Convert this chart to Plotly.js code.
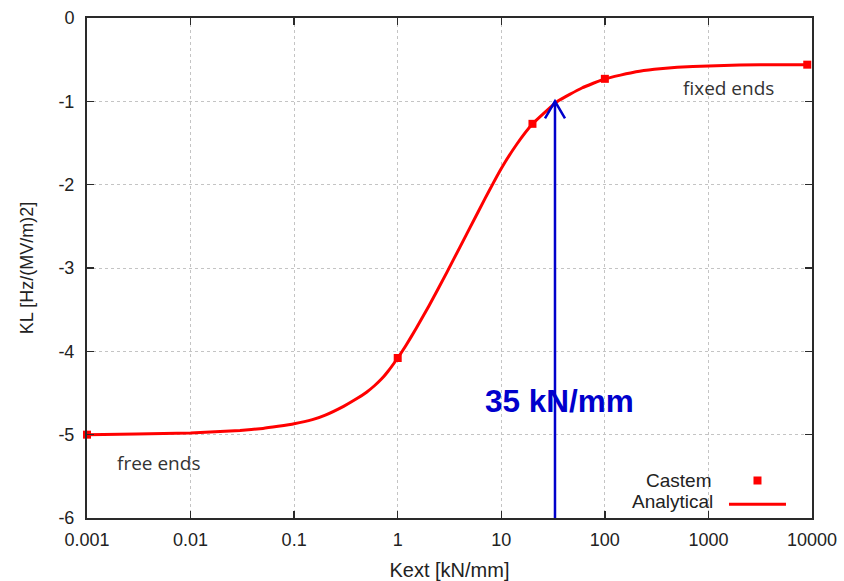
<!DOCTYPE html>
<html><head><meta charset="utf-8">
<script src="https://cdn.plot.ly/plotly-3.0.1.min.js"></script>
<style>html,body{margin:0;padding:0;background:#fff}</style>
</head><body><div id="chart" style="width:844px;height:581px"></div>
<script>
// Analytical curve
const analyticalK  = [0.001, 0.003, 0.01, 0.03, 0.05, 0.07, 0.1, 0.15, 0.2, 0.3, 0.4, 0.5, 0.6, 0.7, 0.8, 1, 1.2, 1.5, 2, 3, 4, 5, 7, 10, 14, 20, 35, 60, 100, 200, 300, 500, 1000, 2000, 5000, 9000];
const analyticalKL = [-5.0, -4.993, -4.98, -4.95, -4.925, -4.90, -4.87, -4.82, -4.765, -4.66, -4.57, -4.49, -4.41, -4.33, -4.245, -4.08, -3.93, -3.73, -3.456, -3.046, -2.746, -2.513, -2.162, -1.806, -1.521, -1.273, -1.0, -0.84, -0.73, -0.645, -0.615, -0.59, -0.575, -0.565, -0.56, -0.56];
// Castem points
const castemK  = [0.001, 1, 20, 100, 9000];
const castemKL = [-5.0, -4.08, -1.27, -0.73, -0.56];
// Ticks
const xTickVals = [0.001, 0.01, 0.1, 1, 10, 100, 1000, 10000];
const xTickText = ["0.001", "0.01", "0.1", "1", "10", "100", "1000", "10000"];
const yTickVals = [0, -1, -2, -3, -4, -5, -6];
const yTickText = ["0", "-1", "-2", "-3", "-4", "-5", "-6"];
const minorMultipliers = [2, 5, 8];
// Highlighted stiffness (arrow drawn where the picture shows it)
const arrowK = 33;
const arrowTopKL = -1;
const arrowBottomKL = -6;
const markLabel = "35 kN/mm";

const xMinorVals = [];
xTickVals.slice(0, -1).forEach(d => minorMultipliers.forEach(m => xMinorVals.push(d * m)));

const red = '#ff0000';
const blue = '#0000cc';
const frame = '#2a2a2a';
const grid = '#c4c4c4';

const traces = [
  {x: analyticalK, y: analyticalKL, type: 'scatter', mode: 'lines', name: ' ',
   line: {color: red, width: 3, shape: 'spline', smoothing: 0.4}, showlegend: true, legendrank: 2},
  {x: castemK, y: castemKL, type: 'scatter', mode: 'markers', name: ' ',
   marker: {color: red, symbol: 'square', size: 8}, showlegend: true, legendrank: 1, cliponaxis: false}
];

const layout = {
  width: 844, height: 581,
  margin: {l: 87, r: 32, t: 18, b: 63},
  paper_bgcolor: '#fff', plot_bgcolor: '#fff',
  font: {family: 'Liberation Sans, Arial, sans-serif', color: '#222', size: 18},
  showlegend: true,
  legend: {x: 0.8786, y: 0.109, xanchor: 'left', yanchor: 'top', bgcolor: 'rgba(0,0,0,0)',
           font: {size: 16}, itemwidth: 57, tracegroupgap: 0, traceorder: 'normal'},
  xaxis: {
    type: 'log', range: [-3, 4],
    tickmode: 'array', tickvals: xTickVals, ticktext: xTickText,
    ticks: 'inside', ticklen: 7, tickwidth: 1.5, tickcolor: frame,
    showline: true, linecolor: frame, linewidth: 2, mirror: 'ticks',
    showgrid: true, gridcolor: grid, gridwidth: 1, griddash: 'dot',
    zeroline: false, ticklabelstandoff: 4,
    tickfont: {size: 18, color: '#222'},
    title: {text: 'Kext [kN/mm]', font: {size: 20, color: '#222'}, standoff: 14}
  },
  xaxis2: {
    type: 'log', range: [-3, 4], overlaying: 'x', side: 'bottom', anchor: 'y',
    tickmode: 'array', tickvals: xMinorVals, showticklabels: false,
    ticks: 'inside', ticklen: 4, tickwidth: 1.2, tickcolor: frame,
    showline: false, mirror: 'ticks', showgrid: false, zeroline: false
  },
  yaxis: {
    range: [-6, 0],
    tickmode: 'array', tickvals: yTickVals, ticktext: yTickText,
    ticks: 'inside', ticklen: 7, tickwidth: 1.5, tickcolor: frame,
    showline: true, linecolor: frame, linewidth: 2, mirror: 'ticks',
    showgrid: true, gridcolor: grid, gridwidth: 1, griddash: 'dot',
    zeroline: false, ticklabelstandoff: 7,
    tickfont: {size: 18, color: '#222'},
    title: {text: 'KL [Hz/(MV/m)2]', font: {size: 18, color: '#222'}, standoff: 20}
  },
  shapes: [
    {type: 'line', xref: 'x', yref: 'y', x0: arrowK, x1: arrowK, y0: arrowBottomKL, y1: arrowTopKL,
     line: {color: blue, width: 2.5}},
    {type: 'path', xref: 'x', yref: 'y', xsizemode: 'pixel', ysizemode: 'pixel',
     xanchor: arrowK, yanchor: arrowTopKL, path: 'M-10,-17 L0,0 L10,-17',
     line: {color: blue, width: 2.5}}
  ],
  annotations: [
    {xref: 'paper', yref: 'paper', x: 0.652, y: 0.234, text: '<b>' + markLabel + '</b>', showarrow: false,
     font: {family: 'Liberation Sans, Arial, sans-serif', size: 31.5, color: blue}, xanchor: 'center', yanchor: 'middle'},
    {xref: 'paper', yref: 'paper', x: 0.0386, y: 0.11, text: 'free ends', showarrow: false,
     font: {family: 'Open Sans, sans-serif', size: 19, color: '#333'}, xanchor: 'left', yanchor: 'middle'},
    {xref: 'paper', yref: 'paper', x: 0.819, y: 0.860, text: 'fixed ends', showarrow: false,
     font: {family: 'Open Sans, sans-serif', size: 19, color: '#333'}, xanchor: 'left', yanchor: 'middle'},
    {xref: 'paper', yref: 'paper', x: 0.8634, y: 0.076, text: 'Castem', showarrow: false,
     font: {size: 19, color: '#222'}, xanchor: 'right', yanchor: 'middle'},
    {xref: 'paper', yref: 'paper', x: 0.8662, y: 0.034, text: 'Analytical', showarrow: false,
     font: {size: 19, color: '#222'}, xanchor: 'right', yanchor: 'middle'}
  ]
};

Plotly.newPlot('chart', traces, layout, {displayModeBar: false, staticPlot: true});
</script></body></html>
